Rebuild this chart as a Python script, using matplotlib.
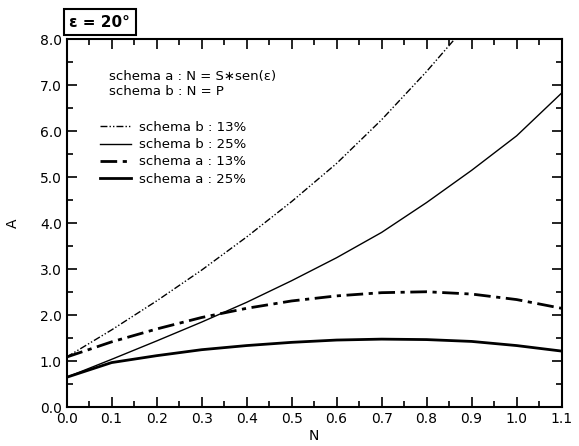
import matplotlib.pyplot as plt
from matplotlib.ticker import MultipleLocator, FormatStrFormatter

# values
n_values = [0.0, 0.1, 0.2, 0.3, 0.4, 0.5, 0.6, 0.7, 0.8, 0.9, 1.0, 1.1]

b13_n = [0.0, 0.1, 0.2, 0.3, 0.4, 0.5, 0.6, 0.7, 0.8, 0.862]
b13_a = [1.09, 1.68, 2.31, 2.98, 3.70, 4.47, 5.30, 6.25, 7.30, 8.0]

b25_a = [0.65, 1.04, 1.44, 1.85, 2.28, 2.75, 3.25, 3.80, 4.45, 5.15, 5.90, 6.83]
a13_a = [1.09, 1.42, 1.70, 1.95, 2.15, 2.31, 2.42, 2.49, 2.51, 2.46, 2.34, 2.15]
a25_a = [0.65, 0.97, 1.12, 1.25, 1.34, 1.41, 1.46, 1.48, 1.47, 1.43, 1.34, 1.22]

legend_labels = ["schema b : 13%", "schema b : 25%", "schema a : 13%", "schema a : 25%"]
scheme_notes = ["schema a : N = S\u2217sen(\u03b5)", "schema b : N = P"]

fig = plt.figure(figsize=(5.79, 4.46), dpi=100)
ax = fig.add_axes([0.115, 0.087, 0.855, 0.825])

l1, = ax.plot(b13_n, b13_a, color="black", lw=1.0, dashes=(5, 1.5, 1, 1.5, 1, 1.5))
l2, = ax.plot(n_values, b25_a, color="black", lw=1.0)
l3, = ax.plot(n_values, a13_a, color="black", lw=2.0, dashes=(6, 2, 1.5, 2))
l4, = ax.plot(n_values, a25_a, color="black", lw=2.0)

ax.set_xlim(0, 1.1)
ax.set_ylim(0, 8)
ax.xaxis.set_major_locator(MultipleLocator(0.1))
ax.xaxis.set_minor_locator(MultipleLocator(0.05))
ax.yaxis.set_major_locator(MultipleLocator(1.0))
ax.yaxis.set_minor_locator(MultipleLocator(0.5))
ax.xaxis.set_major_formatter(FormatStrFormatter("%.1f"))
ax.yaxis.set_major_formatter(FormatStrFormatter("%.1f"))
ax.tick_params(which="both", direction="in", top=True, right=True, labelsize=10, width=1.2)
ax.tick_params(which="major", length=7)
ax.tick_params(which="minor", length=4)
for s in ax.spines.values():
    s.set_linewidth(1.5)

ax.set_xlabel("N", fontsize=10, labelpad=2)
ax.set_ylabel("A", fontsize=10, labelpad=14)

ax.text(0.086, 0.898, scheme_notes[0], transform=ax.transAxes, fontsize=9.5, va="center")
ax.text(0.086, 0.858, scheme_notes[1], transform=ax.transAxes, fontsize=9.5, va="center")

ax.legend([l1, l2, l3, l4], legend_labels, loc="upper left",
          bbox_to_anchor=(0.068, 0.778), frameon=False, fontsize=9.5,
          handlelength=2.3, handletextpad=0.6, labelspacing=0.32,
          borderpad=0, borderaxespad=0)

fig.text(0.12, 0.95, "\u03b5 = 20\u00b0", fontsize=11, fontweight="bold",
         va="center", ha="left",
         bbox=dict(boxstyle="square,pad=0.35", fc="white", ec="black", lw=1.5))

fig.savefig("out.png", dpi=100)
